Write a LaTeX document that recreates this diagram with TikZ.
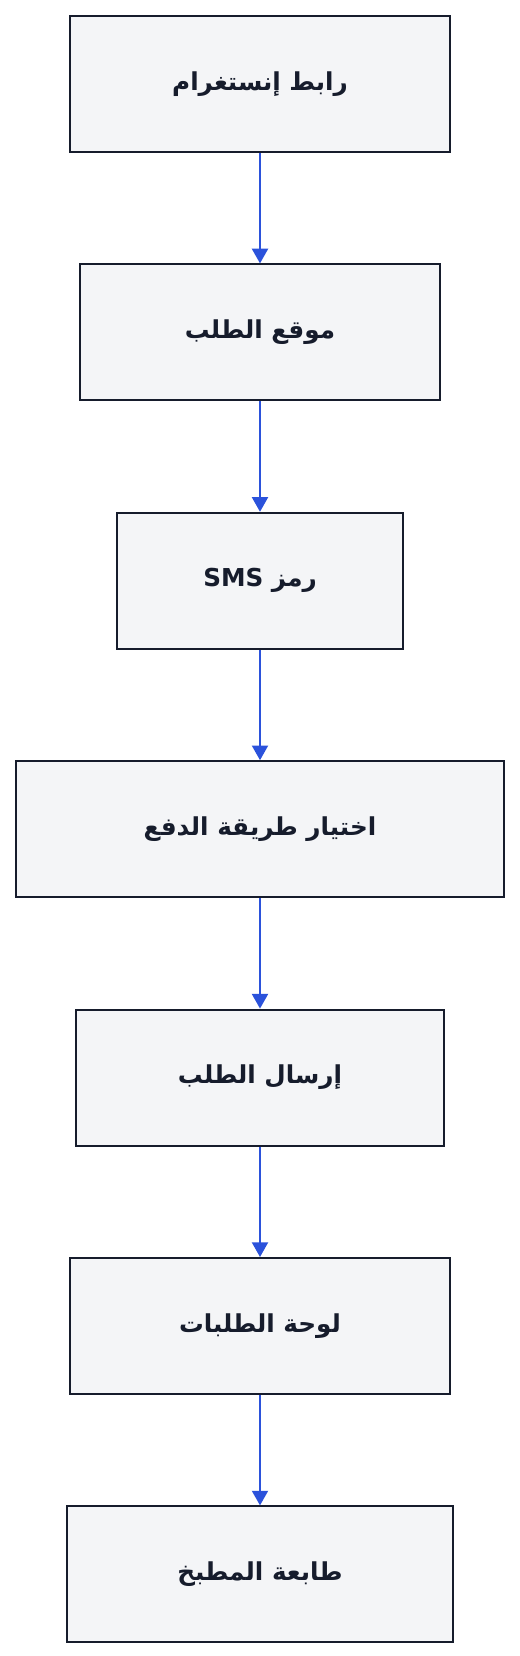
\documentclass[tikz,border=0pt]{standalone}
\usepackage{fontspec}
\usetikzlibrary{positioning,arrows.meta}
\TeXXeTstate=1
\newfontfamily\arabicfont[Script=Arabic]{DejaVu Sans}
\definecolor{boxfill}{HTML}{F4F5F7}
\definecolor{boxline}{HTML}{161C2C}
\definecolor{flowblue}{HTML}{2B52DB}

\begin{document}
\begin{tikzpicture}[
    node distance=82.8pt,
    >={Triangle[length=11pt,width=12pt]},
    every node/.style={draw=boxline, line width=1.5pt, fill=boxfill, text=boxline,
      minimum height=102pt, font=\arabicfont\bfseries\fontsize{18.5}{22}\selectfont}
  ]
      \useasboundingbox (0,0) rectangle (390pt,-1242pt);
      \node [minimum width=285pt] (1) at (195pt,-63pt) {\beginR رابط إنستغرام\endR};
      \node [below=of 1, minimum width=270pt] (2) {\beginR موقع الطلب\endR};
      \node [below=of 2, minimum width=214pt] (3) {\beginR رمز \beginL SMS\endL{}\endR};
      \node [below=of 3, minimum width=366pt] (4) {\beginR اختيار طريقة الدفع\endR};
      \node [below=of 4, minimum width=276pt] (5) {\beginR إرسال الطلب\endR};
      \node [below=of 5, minimum width=285pt] (6) {\beginR لوحة الطلبات\endR};
      \node [below=of 6, minimum width=290pt] (7) {\beginR طابعة المطبخ\endR};

      \foreach \a/\b in {1/2, 2/3, 3/4, 4/5, 5/6, 6/7}
        \draw[->, flowblue, line width=1.5pt] (\a) -- (\b);
    \end{tikzpicture}
\end{document}
